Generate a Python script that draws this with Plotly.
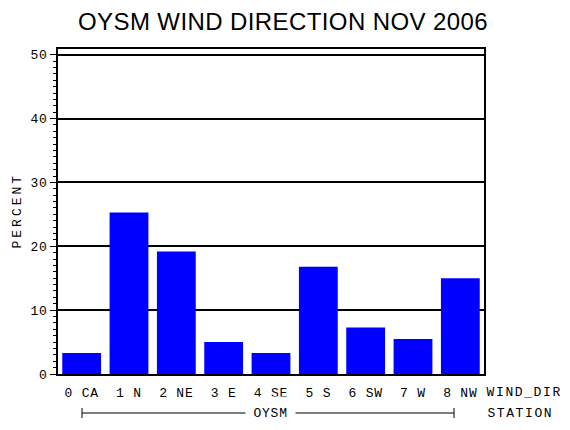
import plotly.graph_objects as go

categories = ["0 CA", "1 N", "2 NE", "3 E", "4 SE", "5 S", "6 SW", "7 W", "8 NW"]
percent = [3.3, 25.3, 19.2, 5.0, 3.3, 16.8, 7.3, 5.5, 15.0]
y_ticks = [0, 10, 20, 30, 40, 50]
y_ticklabels = ["0", "10", "20", "30", "40", "50"]
title_text = "OYSM WIND DIRECTION NOV 2006"
y_title = "PERCENT"
x_title = "WIND_DIR"
group_label = "OYSM"
group_title = "STATION"

W, H = 570, 430
L, R, T, B = 58, 484, 49, 374
pw, ph = R - L, B - T

def px(x):
    return (x - L) / pw

def py(y):
    return (B - y) / ph

mono = dict(family="Liberation Mono", size=13, color="black")

fig = go.Figure(go.Bar(
    x=categories, y=percent,
    marker=dict(color="#0000FF", line=dict(width=0)),
))

fig.update_layout(
    width=W, height=H,
    margin=dict(l=L, r=W - R, t=T, b=H - B, autoexpand=False),
    paper_bgcolor="white", plot_bgcolor="white",
    bargap=0.18,
    showlegend=False,
    title=dict(text=title_text, x=283 / W, xref="container",
               y=1 - 21.5 / H, yref="container", xanchor="center", yanchor="middle",
               font=dict(family="Liberation Sans", size=24, color="black")),
    xaxis=dict(showline=True, linecolor="black", linewidth=1.5, mirror=True,
               ticks="", showgrid=False, tickfont=mono, ticklabelstandoff=6,
               fixedrange=True),
    yaxis=dict(range=[0, 50.9], tickvals=y_ticks, ticktext=y_ticklabels,
               showline=True, linecolor="black", linewidth=1.5, mirror=True,
               ticks="outside", ticklen=6, tickwidth=1, tickcolor="black",
               minor=dict(dtick=1, ticks="outside", ticklen=3, tickcolor="black", tickwidth=1, showgrid=False),
               showgrid=True, gridcolor="black", gridwidth=1.5,
               tickfont=mono, zeroline=False, fixedrange=True),
)

ann = []
ann.append(dict(text=x_title, x=px(491), y=py(392), xref="paper", yref="paper",
                xanchor="left", yanchor="middle", showarrow=False, font=mono))
ann.append(dict(text=group_title, x=px(491), y=py(413), xref="paper", yref="paper",
                xanchor="left", yanchor="middle", showarrow=False, font=mono))
ann.append(dict(text=group_label, x=px(270), y=py(413), xref="paper", yref="paper",
                xanchor="center", yanchor="middle", showarrow=False, font=mono,
                bgcolor="white", borderpad=9))
ann.append(dict(text=y_title, x=px(17), y=py(211), xref="paper", yref="paper",
                xanchor="center", yanchor="middle", textangle=-90, showarrow=False, font=mono))
fig.update_layout(annotations=ann)

shapes = [
    dict(type="line", xref="paper", yref="paper", x0=px(82), x1=px(454), y0=py(413), y1=py(413),
         line=dict(color="black", width=1), layer="below"),
    dict(type="line", xref="paper", yref="paper", x0=px(82), x1=px(82), y0=py(408), y1=py(418),
         line=dict(color="black", width=1)),
    dict(type="line", xref="paper", yref="paper", x0=px(454), x1=px(454), y0=py(408), y1=py(418),
         line=dict(color="black", width=1)),
]
fig.update_layout(shapes=shapes)

css = """
document.body.style.margin = '0';
var s = document.createElement('style');
s.textContent = '.xtick text, .ytick text, .annotation-text {letter-spacing: 0.8px;} .annotation[data-index="0"] .annotation-text, .annotation[data-index="1"] .annotation-text {letter-spacing: 1.6px;} .annotation[data-index="3"] .annotation-text {letter-spacing: 3px;} .gtitle {letter-spacing: 0.4px;}';
document.head.appendChild(s);
"""
fig.write_html("out.html", post_script=css, config={"displayModeBar": False})
